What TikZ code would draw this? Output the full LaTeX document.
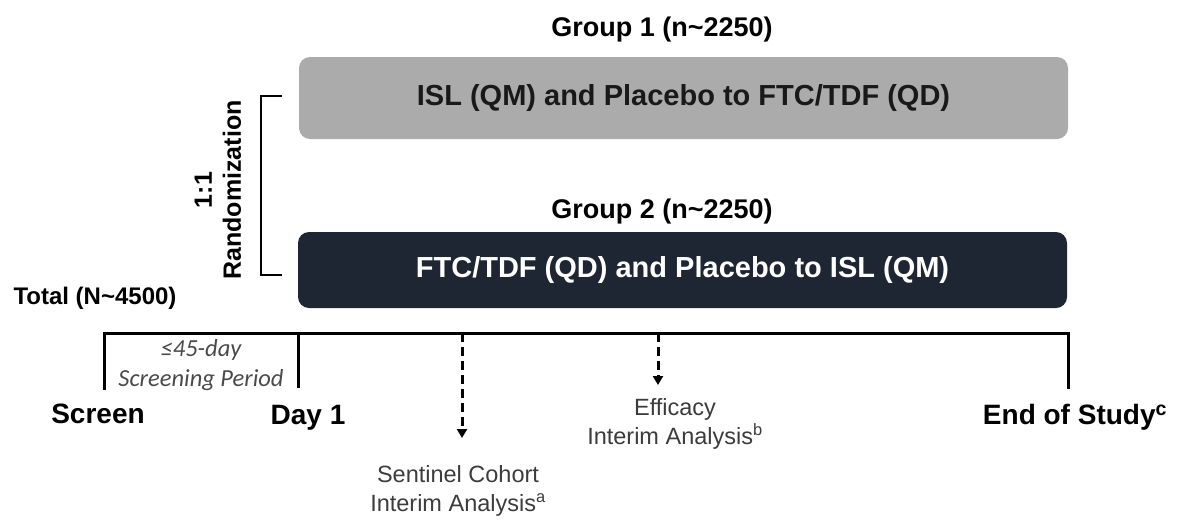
\documentclass[tikz,border=0pt]{standalone}
\usepackage{fontspec}
\setmainfont{Liberation Sans}
\newfontfamily\calib{Carlito}
\usetikzlibrary{arrows.meta,positioning}
\definecolor{boxgray}{HTML}{ABABAB}
\definecolor{boxnavy}{HTML}{1F2633}
\definecolor{lblgray}{HTML}{3C3C3C}
\definecolor{scrgray}{HTML}{4A4A4A}

\begin{document}
\begin{tikzpicture}[x=1pt,y=-1pt,
  armbox/.style={rounded corners=11pt,minimum width=769pt,inner sep=0pt,
    font=\fontsize{29}{34}\selectfont\bfseries},
  grptitle/.style={font=\fontsize{27}{32}\selectfont\bfseries},
  tick/.style={font=\fontsize{28}{33}\selectfont\bfseries},
  tl/.style={line width=3pt},
  dasharr/.style={line width=3pt,dash pattern=on 9pt off 5pt,
    -{Triangle[width=10pt,length=9pt]}},
  ianote/.style={align=center,text=lblgray,font=\fontsize{23.5}{29}\selectfont}]
  \useasboundingbox (0,0) rectangle (1177,520);
  % arms
  \node[grptitle] (t1) at (662,30) {Group 1 (n\textasciitilde 2250)};
  \node[armbox,fill=boxgray,minimum height=82pt,text=black!90] (g1) at (683.5,98) {ISL (QM) and Placebo to FTC/TDF (QD)};
  \node[grptitle] (t2) at (662,212) {Group 2 (n\textasciitilde 2250)};
  \node[armbox,fill=boxnavy,minimum height=76pt,text=white] (g2) at (682.5,270) {FTC/TDF (QD) and Placebo to ISL (QM)};
  % randomization bracket
  \coordinate (bt) at (282,96);
  \coordinate (bb) at (282,275);
  \draw[line width=2.5pt] (bt) -- ++(-21,0) |- (bb);
  \node[rotate=90,align=center,font=\fontsize{25}{29}\selectfont\bfseries] (rand) at (218,190) {1:1\\Randomization};
  \node[font=\fontsize{24}{28}\selectfont\bfseries,anchor=west] (tot) at (10,298) {Total (N\textasciitilde 4500)};
  % timeline
  \coordinate (scr) at (104,333);
  \coordinate (day1) at (298,333);
  \coordinate (eos) at (1068,333);
  \coordinate (scrb) at (104,390);
  \coordinate (day1b) at (298,388);
  \coordinate (eosb) at (1068,389);
  \draw[tl] (scrb) -- (scr) -- (eos) -- (eosb);
  \draw[tl] (day1) -- (day1b);
  \node[align=center,text=scrgray,font=\calib\itshape\fontsize{24.5}{30}\selectfont] (scrp) at (201,365) {≤45-day\\Screening Period};
  \node[tick] (screen) at (98,414) {Screen};
  \node[tick] (d1) at (308,418) {Day 1};
  \node[tick] (end) at (1075,417) {End of Study\textsuperscript{c}};
  % interim analyses
  \coordinate (sc) at (462,333);
  \coordinate (sctip) at (462,438);
  \coordinate (ef) at (658,333);
  \coordinate (eftip) at (658,385);
  \draw[dasharr] (sc) -- (sctip);
  \draw[dasharr] (ef) -- (eftip);
  \node[ianote] (sent) at (458,491) {Sentinel Cohort\\Interim Analysis\textsuperscript{a}};
  \node[ianote] (effi) at (675,424) {Efficacy\\Interim Analysis\textsuperscript{b}};
\end{tikzpicture}
\end{document}
